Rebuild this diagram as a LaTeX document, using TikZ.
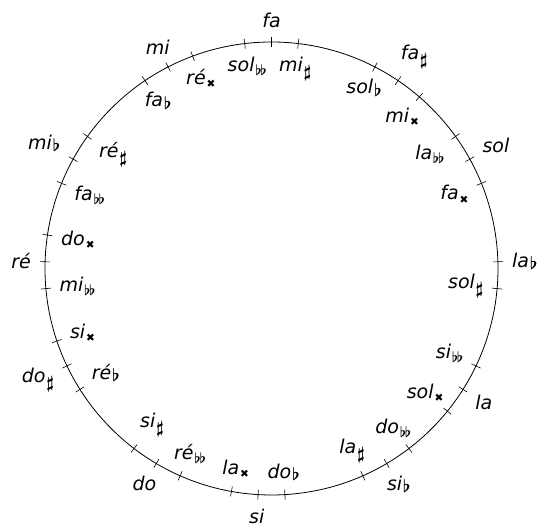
\documentclass[tikz,border=0pt]{standalone}
\usepackage{fontspec}
\setmainfont{DejaVu Sans}
\newcommand\accSh{\kern0.8pt\raisebox{-6pt}{\fontsize{16}{16}\selectfont\boldmath$\sharp$}}
\newcommand\accFl{\kern0.8pt\raisebox{-2.2pt}{\fontsize{16}{16}\selectfont\boldmath$\flat$}}
\newcommand\accDFl{\kern0.8pt\raisebox{-4pt}{\fontsize{14}{14}\selectfont\boldmath$\flat\mkern-1.5mu\flat$}}
\newcommand\accDSh{\kern1pt\raisebox{-3.5pt}{\fontsize{10.5}{10.5}\selectfont\upshape ✖}}
\tikzset{
  circ/.style={line width=0.8pt},
  tickmark/.style={line width=0.6pt},
  lab/.style={font=\fontsize{19}{23}\selectfont\itshape, inner sep=2pt}
}
\begin{document}
\begin{tikzpicture}[x=1pt,y=1pt]
\useasboundingbox (0,0) rectangle (544,529);
\begin{scope}[shift={(271.5,260.5)}]
\coordinate (O) at (0,0);
\draw[circ] (O) circle[radius=226.5];
\foreach \s in {0,1,4,5,6,8,9,10,13,14,17,18,19,21,22,23,26,27,28,30,31,32,35,36,37,39,40,41,43,44,45,48,49,50,52}{
  \pgfmathsetmacro\a{90-\s*6.7924528}
  \draw[tickmark] (\a:221.5) -- (\a:231.5);
}
% outer labels
\foreach \s/\t in {0/fa, 5/fa\accSh, 9/sol, 13/la\accFl, 18/la, 22/si\accFl, 27/si, 31/do, 36/do\accSh, 40/ré, 44/mi\accFl, 49/mi}{
  \pgfmathsetmacro\a{90-\s*6.7924528}
  \pgfmathsetmacro\b{mod(\a+540,360)}
  \node[lab, anchor=\b] (o\s) at (\a:238.5) {\t};
}
% inner labels
\foreach \s/\t in {1/mi\accSh, 4/sol\accFl, 6/mi\accDSh, 8/la\accDFl, 10/fa\accDSh, 14/sol\accSh, 17/si\accDFl, 19/sol\accDSh, 21/do\accDFl, 23/la\accSh, 26/do\accFl, 28/la\accDSh, 30/ré\accDFl, 32/si\accSh, 35/ré\accFl, 37/si\accDSh, 39/mi\accDFl, 41/do\accDSh, 43/fa\accDFl, 45/ré\accSh, 48/fa\accFl, 50/ré\accDSh, 52/sol\accDFl}{
  \pgfmathsetmacro\a{90-\s*6.7924528}
  \pgfmathsetmacro\b{mod(\a+360,360)}
  \node[lab, anchor=\b] (i\s) at (\a:215) {\t};
}
\end{scope}
\end{tikzpicture}
\end{document}
